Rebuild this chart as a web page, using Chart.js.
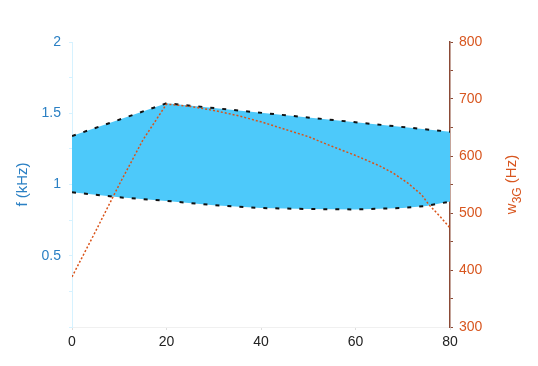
<!DOCTYPE html>
<html>
<head>
<meta charset="utf-8">
<script src="https://cdn.jsdelivr.net/npm/chart.js@4/dist/chart.umd.min.js"></script>
<style>
  html, body { margin: 0; padding: 0; background: #fff; }
  #wrap { width: 538px; height: 366px; }
</style>
</head>
<body>
<div id="wrap"><canvas id="c" width="538" height="366"></canvas></div>
<script>
// band edges, f in kHz
const upperX = [0, 20, 80];
const upperF = [1.34, 1.57, 1.37];
const lowerX = [0, 10, 20, 30, 40, 50, 60, 70, 75, 80];
const lowerF = [0.945, 0.91, 0.885, 0.855, 0.835, 0.828, 0.825, 0.835, 0.85, 0.88];
// w3G curve, Hz
const wX = [0, 5, 10, 15, 20, 25, 30, 35, 40, 45, 50, 55, 60, 65, 68, 71, 74, 75.5, 78, 80];
const wHz = [388, 468, 550, 628, 691, 687, 680, 671, 660, 647, 634, 617, 601, 583, 570, 553, 532, 515, 493, 474];
const xTicks = [0, 20, 40, 60, 80];

const pts = (xs, ys) => xs.map((x, i) => ({ x: x, y: ys[i] }));

const blue = '#2b80c4';
const orange = '#d8561f';
const brown = '#8b4a36';
const font = { family: 'Liberation Sans, Arial, sans-serif', size: 14 };

// right axis title with subscript
const rightTitle = {
  id: 'rightTitle',
  afterDraw(chart) {
    const ctx = chart.ctx;
    const cy = (chart.chartArea.top + chart.chartArea.bottom) / 2;
    ctx.save();
    ctx.translate(516, cy);
    ctx.rotate(-Math.PI / 2);
    ctx.fillStyle = orange;
    ctx.textBaseline = 'alphabetic';
    ctx.font = '15px Liberation Sans, Arial, sans-serif';
    const w1 = ctx.measureText('w').width;
    ctx.font = '12px Liberation Sans, Arial, sans-serif';
    const w2 = ctx.measureText('3G').width;
    ctx.font = '15px Liberation Sans, Arial, sans-serif';
    const w3 = ctx.measureText(' (Hz)').width;
    let x = -(w1 + w2 + w3) / 2;
    ctx.fillText('w', x, 0);
    x += w1;
    ctx.font = '12px Liberation Sans, Arial, sans-serif';
    ctx.fillText('3G', x, 5);
    x += w2;
    ctx.font = '15px Liberation Sans, Arial, sans-serif';
    ctx.fillText(' (Hz)', x, 0);
    ctx.restore();
  }
};

new Chart(document.getElementById('c').getContext('2d'), {
  type: 'line',
  data: {
    datasets: [
      {
        label: 'upper',
        data: pts(upperX, upperF),
        yAxisID: 'y',
        borderColor: '#111',
        borderWidth: 2,
        borderDash: [4, 8],
        backgroundColor: '#4dc9fa',
        fill: '+1',
        pointRadius: 0,
        order: 2
      },
      {
        label: 'lower',
        data: pts(lowerX, lowerF),
        yAxisID: 'y',
        borderColor: '#111',
        borderWidth: 2,
        borderDash: [4, 8],
        fill: false,
        pointRadius: 0,
        order: 1
      },
      {
        label: 'w3G',
        data: pts(wX, wHz),
        yAxisID: 'y2',
        borderColor: '#d95319',
        borderWidth: 1.5,
        borderDash: [2, 2],
        fill: false,
        pointRadius: 0,
        order: 0
      }
    ]
  },
  options: {
    responsive: false,
    animation: false,
    layout: { padding: { top: 42, left: 0, right: 0, bottom: 0 } },
    plugins: { legend: { display: false }, tooltip: { enabled: false } },
    scales: {
      x: {
        type: 'linear',
        min: 0,
        max: 80,
        afterFit: s => { s.height = 39; },
        afterBuildTicks: s => { s.ticks = xTicks.map(v => ({ value: v })); },
        border: { color: '#f0f0f0' },
        grid: { drawOnChartArea: false, color: '#ddd', tickLength: 3 },
        ticks: { color: '#222', font: font, padding: 4, maxRotation: 0 }
      },
      y: {
        position: 'left',
        min: 0,
        max: 2,
        afterFit: s => { s.width = 72; },
        border: { color: '#d6f2ff' },
        grid: { drawOnChartArea: false, color: '#d6f2ff', tickLength: 3 },
        ticks: {
          stepSize: 0.25,
          color: blue,
          font: font,
          padding: 8,
          callback: v => (v === 0 || v % 0.5 !== 0) ? '' : v
        },
        title: { display: true, text: 'f (kHz)', color: blue, font: { family: font.family, size: 15 }, padding: { top: 14, bottom: 0 } }
      },
      y2: {
        position: 'right',
        min: 300,
        max: 800,
        afterFit: s => { s.width = 88; },
        border: { color: brown, width: 1.5 },
        grid: { drawOnChartArea: false, color: brown, tickLength: 3 },
        ticks: {
          stepSize: 50,
          color: orange,
          font: font,
          padding: 6,
          callback: v => v % 100 === 0 ? v : ''
        }
      }
    }
  },
  plugins: [rightTitle]
});
</script>
</body>
</html>
